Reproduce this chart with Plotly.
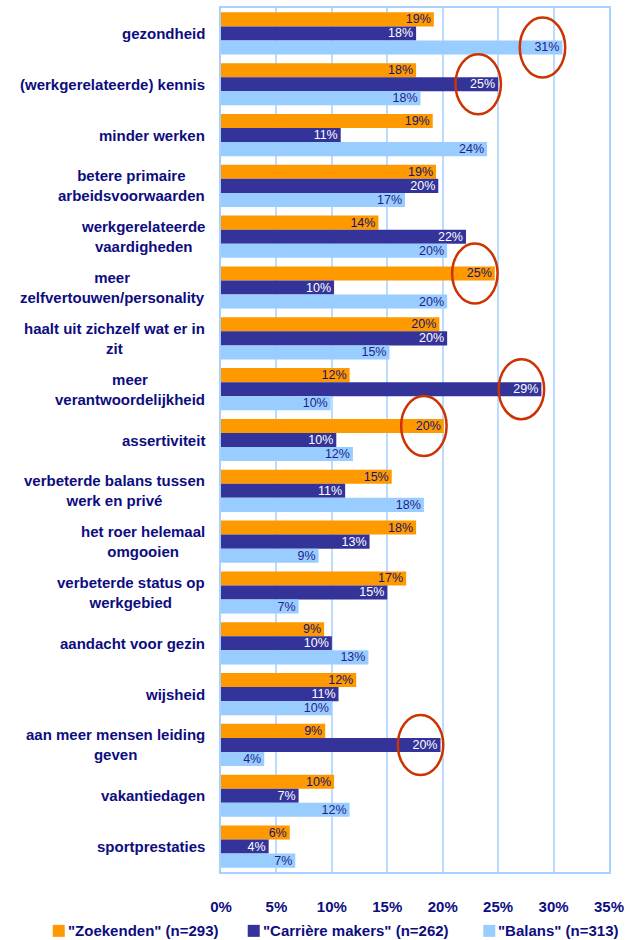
import plotly.graph_objects as go

categories = [
    "gezondheid",
    "(werkgerelateerde) kennis",
    "minder werken",
    "betere primaire<br>arbeidsvoorwaarden",
    "werkgerelateerde<br>vaardigheden",
    "meer<br>zelfvertouwen/personality",
    "haalt uit zichzelf wat er in<br>zit",
    "meer<br>verantwoordelijkheid",
    "assertiviteit",
    "verbeterde balans tussen<br>werk en privé",
    "het roer helemaal<br>omgooien",
    "verbeterde status op<br>werkgebied",
    "aandacht voor gezin",
    "wijsheid",
    "aan meer mensen leiding<br>geven",
    "vakantiedagen",
    "sportprestaties",
]

zoekenden = [19.2, 17.6, 19.1, 19.4, 14.2, 24.7, 19.7, 11.6, 20.1, 15.4, 17.6, 16.7, 9.3, 12.2, 9.4, 10.2, 6.2]
carriere = [17.6, 25.0, 10.8, 19.6, 22.1, 10.2, 20.4, 28.9, 10.4, 11.2, 13.4, 15.0, 10.0, 10.6, 19.8, 7.0, 4.3]
balans = [30.8, 18.0, 24.0, 16.6, 20.4, 20.4, 15.2, 9.9, 11.9, 18.3, 8.8, 7.0, 13.3, 10.0, 3.9, 11.6, 6.7]

series_names = ['"Zoekenden" (n=293)', '"Carrière makers" (n=262)', '"Balans" (n=313)']
series_values = [zoekenden, carriere, balans]
series_colors = ["#FF9900", "#333399", "#99CCFF"]
text_colors = ["#14146e", "#ffffff", "#1f1f8a"]

x_tickvals = [0, 5, 10, 15, 20, 25, 30, 35]
x_ticktext = ["0%", "5%", "10%", "15%", "20%", "25%", "30%", "35%"]

# highlighted (category index, series index) pairs - red ellipses
highlights = [(0, 2), (1, 1), (5, 0), (7, 1), (8, 0), (14, 1)]

NAVY = "#0d0d80"
FONT = "Arial, Liberation Sans"
BARGAP = 0.17
idx = list(range(len(categories)))

W, H = 630, 940
ML, MR, MT, MB = 221, 17, 6, 68
plot_w = W - ML - MR
plot_h = H - MT - MB

fig = go.Figure()
for name, vals, col, tcol in zip(series_names, series_values, series_colors, text_colors):
    fig.add_trace(go.Bar(
        y=idx, x=vals, orientation="h", name=name,
        marker=dict(color=col, line=dict(width=0)),
        text=[f"{v:.0f}%" for v in vals],
        textposition="inside", insidetextanchor="end",
        textfont=dict(family=FONT, size=12.5, color=tcol),
        constraintext="none", cliponaxis=False,
        hoverinfo="skip", showlegend=False,
    ))

# category labels as annotations (centered multi-line, right anchored)
for i, c in enumerate(categories):
    fig.add_annotation(
        x=0, xref="paper", y=i, yref="y", text=c, showarrow=False,
        xanchor="right", yanchor="middle", align="center", xshift=-14,
        font=dict(family=FONT, size=15, color=NAVY, weight="bold"),
    )

# ellipses
bw = (1 - BARGAP) / 3
for ci, si in highlights:
    v = series_values[si][ci]
    yc = ci + (si - 1) * bw
    fig.add_shape(
        type="circle", xref="x", yref="y",
        x0=v - 3.85, x1=v + 0.25, y0=yc - 0.59, y1=yc + 0.59,
        line=dict(color="#CC3300", width=2.5),
    )

# legend (drawn manually for exact spacing), pixel offsets from plot left edge
legend_sq_px = [-170, 27, 265]
legend_y = -59 / plot_h
for name, col, px in zip(series_names, series_colors, legend_sq_px):
    xa = px / plot_w
    fig.add_shape(
        type="rect", xref="paper", yref="paper",
        xsizemode="pixel", ysizemode="pixel", xanchor=xa, yanchor=legend_y,
        x0=0, x1=12, y0=-6, y1=6,
        fillcolor=col, line=dict(width=0),
    )
    fig.add_annotation(
        x=xa, xref="paper", y=legend_y, yref="paper", text=name,
        showarrow=False, xanchor="left", yanchor="middle", xshift=13,
        font=dict(family=FONT, size=15, color=NAVY, weight="bold"),
    )

fig.update_layout(
    width=W, height=H,
    margin=dict(l=ML, r=MR, t=MT, b=MB),
    barmode="group", bargap=BARGAP, bargroupgap=0,
    plot_bgcolor="white", paper_bgcolor="white",
    font=dict(family=FONT, color=NAVY, size=15),
    showlegend=False,
)
fig.update_xaxes(
    range=[0, 35], tickvals=x_tickvals, ticktext=x_ticktext,
    showgrid=True, gridcolor="#BCDCFF", gridwidth=2,
    showline=True, linecolor="#A8D0FF", linewidth=2, mirror=True,
    zeroline=False, ticks="", ticklabelstandoff=20,
    tickfont=dict(family=FONT, size=15, color=NAVY, weight="bold"),
)
fig.update_yaxes(
    range=[len(categories) - 0.5, -0.5], showticklabels=False,
    showgrid=False, showline=True, linecolor="#A8D0FF", linewidth=2, mirror=True,
    zeroline=False, ticks="",
)

fig.write_html(
    "out.html",
    config={"displayModeBar": False},
    post_script="document.body.style.margin='0';document.body.style.overflow='hidden';",
)
